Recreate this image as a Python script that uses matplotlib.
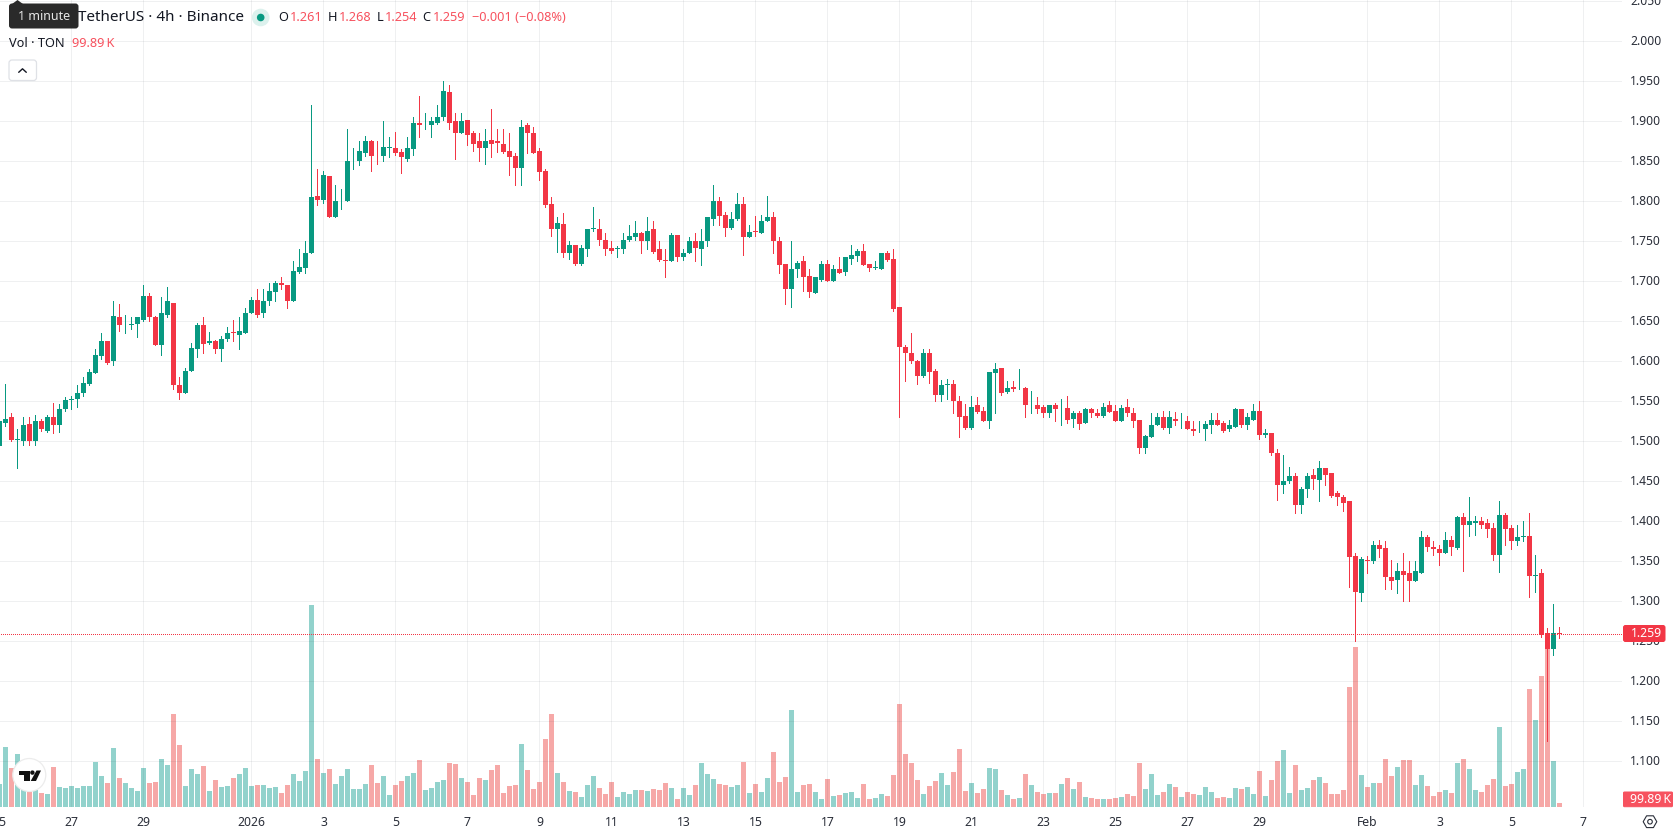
import matplotlib
matplotlib.use("Agg")
import matplotlib.pyplot as plt
from matplotlib.patches import Circle, FancyBboxPatch, Polygon, RegularPolygon
from matplotlib.transforms import ScaledTranslation

plt.rcParams['font.family'] = 'Noto Sans'

# TON/USDT 4h candles, one value per bar
opens = [
    1.494,1.523,1.530,1.502,1.501,1.522,1.500,1.525,1.513,1.531,
    1.521,1.540,1.552,1.553,1.561,1.572,1.586,1.606,1.626,1.600,
    1.656,1.645,1.646,1.647,1.652,1.682,1.656,1.621,1.658,1.673,
    1.571,1.561,1.588,1.615,1.646,1.623,1.626,1.615,1.628,1.637,
    1.633,1.636,1.660,1.677,1.660,1.675,1.687,1.698,1.696,1.676,
    1.712,1.717,1.735,1.806,1.802,1.832,1.780,1.800,1.800,1.850,
    1.850,1.861,1.876,1.857,1.856,1.867,1.867,1.862,1.853,1.865,
    1.898,1.895,1.895,1.898,1.905,1.937,1.901,1.886,1.901,1.885,
    1.875,1.867,1.877,1.875,1.872,1.863,1.856,1.842,1.895,1.886,
    1.863,1.838,1.796,1.765,1.772,1.735,1.746,1.722,1.740,1.765,
    1.766,1.752,1.741,1.740,1.740,1.752,1.756,1.761,1.750,1.765,
    1.740,1.727,1.725,1.758,1.730,1.736,1.751,1.740,1.750,1.778,
    1.801,1.783,1.767,1.778,1.796,1.755,1.763,1.760,1.776,1.781,
    1.751,1.721,1.690,1.715,1.725,1.707,1.686,1.702,1.722,1.701,
    1.715,1.712,1.728,1.731,1.738,1.721,1.717,1.716,1.736,1.728,
    1.668,1.618,1.611,1.601,1.582,1.611,1.588,1.558,1.571,1.572,
    1.551,1.532,1.517,1.545,1.538,1.525,1.585,1.592,1.562,1.568,
    1.565,1.567,1.545,1.546,1.543,1.535,1.546,1.540,1.542,1.528,
    1.535,1.523,1.540,1.536,1.532,1.545,1.538,1.526,1.543,1.536,
    1.527,1.491,1.506,1.521,1.531,1.517,1.528,1.525,1.526,1.516,
    1.515,1.516,1.521,1.527,1.523,1.515,1.518,1.541,1.521,1.527,
    1.538,1.508,1.511,1.486,1.445,1.450,1.457,1.421,1.440,1.458,
    1.452,1.467,1.460,1.435,1.431,1.425,1.356,1.311,1.352,1.350,
    1.370,1.367,1.331,1.327,1.338,1.336,1.325,1.336,1.380,1.368,
    1.366,1.360,1.377,1.367,1.406,1.396,1.398,1.400,1.398,1.392,
    1.358,1.408,1.392,1.375,1.381,1.382,1.332,1.335,1.261,1.240,
    1.261,
]
highs = [
    1.530,1.572,1.535,1.516,1.531,1.531,1.533,1.528,1.533,1.548,
    1.547,1.556,1.557,1.571,1.580,1.591,1.616,1.636,1.626,1.676,
    1.672,1.658,1.656,1.656,1.695,1.685,1.657,1.681,1.693,1.673,
    1.580,1.592,1.623,1.648,1.655,1.637,1.627,1.632,1.643,1.652,
    1.656,1.667,1.681,1.691,1.691,1.698,1.701,1.706,1.696,1.726,
    1.740,1.750,1.921,1.841,1.838,1.832,1.820,1.815,1.890,1.867,
    1.876,1.882,1.877,1.876,1.901,1.881,1.887,1.866,1.881,1.906,
    1.932,1.911,1.905,1.921,1.951,1.945,1.910,1.911,1.901,1.888,
    1.886,1.891,1.916,1.891,1.891,1.885,1.861,1.902,1.898,1.893,
    1.867,1.841,1.806,1.781,1.785,1.750,1.746,1.746,1.766,1.793,
    1.778,1.761,1.751,1.744,1.761,1.771,1.776,1.762,1.780,1.775,
    1.751,1.741,1.761,1.758,1.740,1.756,1.761,1.765,1.781,1.820,
    1.805,1.787,1.787,1.811,1.806,1.771,1.782,1.783,1.807,1.787,
    1.756,1.721,1.750,1.726,1.732,1.715,1.706,1.726,1.727,1.720,
    1.730,1.731,1.746,1.740,1.747,1.722,1.726,1.736,1.738,1.741,
    1.668,1.621,1.635,1.602,1.616,1.616,1.590,1.577,1.578,1.577,
    1.557,1.547,1.557,1.556,1.543,1.587,1.598,1.592,1.576,1.576,
    1.591,1.568,1.563,1.555,1.546,1.546,1.548,1.553,1.557,1.538,
    1.538,1.542,1.542,1.541,1.548,1.551,1.545,1.545,1.553,1.542,
    1.527,1.508,1.535,1.536,1.538,1.538,1.537,1.535,1.532,1.526,
    1.526,1.525,1.535,1.536,1.526,1.527,1.542,1.541,1.536,1.547,
    1.551,1.515,1.511,1.491,1.483,1.468,1.461,1.443,1.461,1.466,
    1.476,1.467,1.461,1.438,1.433,1.425,1.361,1.356,1.357,1.376,
    1.377,1.376,1.352,1.348,1.360,1.351,1.351,1.388,1.383,1.376,
    1.370,1.387,1.382,1.407,1.410,1.431,1.407,1.406,1.403,1.398,
    1.425,1.411,1.395,1.396,1.401,1.410,1.358,1.341,1.267,1.297,
    1.268,
]
lows = [
    1.490,1.519,1.501,1.467,1.496,1.496,1.496,1.513,1.512,1.511,
    1.512,1.538,1.541,1.543,1.557,1.571,1.586,1.603,1.597,1.596,
    1.638,1.636,1.640,1.631,1.651,1.651,1.620,1.608,1.656,1.565,
    1.553,1.561,1.588,1.606,1.610,1.622,1.611,1.600,1.625,1.626,
    1.616,1.635,1.660,1.656,1.656,1.670,1.676,1.691,1.667,1.675,
    1.710,1.711,1.735,1.796,1.798,1.781,1.780,1.791,1.800,1.840,
    1.846,1.857,1.838,1.847,1.851,1.855,1.858,1.835,1.851,1.858,
    1.881,1.891,1.880,1.897,1.902,1.890,1.853,1.885,1.871,1.863,
    1.851,1.847,1.856,1.862,1.861,1.833,1.820,1.820,1.861,1.861,
    1.827,1.793,1.757,1.737,1.730,1.728,1.721,1.720,1.732,1.763,
    1.746,1.733,1.736,1.730,1.736,1.750,1.752,1.736,1.741,1.736,
    1.725,1.706,1.725,1.726,1.727,1.736,1.726,1.721,1.744,1.771,
    1.771,1.757,1.765,1.777,1.733,1.755,1.757,1.760,1.776,1.735,
    1.711,1.672,1.668,1.705,1.688,1.680,1.685,1.700,1.700,1.700,
    1.711,1.708,1.722,1.726,1.720,1.713,1.715,1.715,1.726,1.663,
    1.531,1.575,1.598,1.572,1.581,1.573,1.551,1.551,1.553,1.536,
    1.505,1.516,1.516,1.536,1.525,1.517,1.535,1.558,1.561,1.563,
    1.565,1.531,1.535,1.536,1.530,1.531,1.526,1.520,1.523,1.518,
    1.516,1.523,1.530,1.531,1.531,1.537,1.526,1.526,1.532,1.518,
    1.486,1.486,1.506,1.521,1.516,1.510,1.521,1.517,1.515,1.508,
    1.512,1.502,1.511,1.521,1.512,1.513,1.518,1.518,1.515,1.527,
    1.503,1.505,1.483,1.427,1.436,1.448,1.411,1.411,1.430,1.440,
    1.426,1.446,1.431,1.421,1.413,1.318,1.251,1.301,1.336,1.348,
    1.356,1.315,1.316,1.311,1.301,1.301,1.325,1.336,1.363,1.358,
    1.346,1.360,1.358,1.366,1.338,1.382,1.383,1.392,1.381,1.352,
    1.337,1.371,1.365,1.370,1.376,1.306,1.312,1.256,1.125,1.233,
    1.254,
]
closes = [
    1.525,1.528,1.502,1.503,1.521,1.500,1.526,1.515,1.531,1.521,
    1.541,1.552,1.553,1.561,1.573,1.587,1.608,1.625,1.598,1.657,
    1.645,1.646,1.647,1.655,1.682,1.655,1.621,1.661,1.675,1.571,
    1.561,1.588,1.616,1.646,1.622,1.626,1.615,1.628,1.636,1.635,
    1.638,1.661,1.677,1.658,1.676,1.688,1.698,1.695,1.676,1.713,
    1.718,1.736,1.806,1.802,1.833,1.781,1.800,1.801,1.850,1.851,
    1.863,1.876,1.856,1.856,1.868,1.868,1.860,1.855,1.866,1.898,
    1.895,1.896,1.900,1.906,1.938,1.898,1.886,1.900,1.883,1.872,
    1.866,1.876,1.872,1.873,1.862,1.855,1.842,1.893,1.885,1.861,
    1.837,1.795,1.765,1.773,1.735,1.746,1.722,1.742,1.765,1.766,
    1.752,1.740,1.738,1.741,1.752,1.757,1.761,1.750,1.763,1.737,
    1.727,1.725,1.758,1.730,1.736,1.751,1.741,1.750,1.780,1.801,
    1.782,1.767,1.778,1.796,1.755,1.762,1.762,1.776,1.781,1.750,
    1.720,1.690,1.716,1.723,1.705,1.687,1.705,1.722,1.700,1.715,
    1.711,1.731,1.733,1.738,1.720,1.717,1.718,1.736,1.727,1.666,
    1.618,1.610,1.600,1.582,1.611,1.587,1.558,1.571,1.572,1.550,
    1.530,1.517,1.543,1.537,1.525,1.586,1.591,1.561,1.567,1.565,
    1.566,1.545,1.546,1.541,1.535,1.546,1.540,1.541,1.527,1.535,
    1.522,1.540,1.535,1.532,1.543,1.537,1.526,1.542,1.536,1.526,
    1.491,1.507,1.521,1.531,1.517,1.530,1.525,1.526,1.515,1.513,
    1.516,1.522,1.527,1.521,1.513,1.520,1.541,1.521,1.530,1.538,
    1.508,1.510,1.485,1.445,1.451,1.457,1.421,1.441,1.457,1.453,
    1.467,1.458,1.432,1.430,1.423,1.355,1.312,1.353,1.351,1.370,
    1.365,1.330,1.326,1.338,1.333,1.326,1.338,1.380,1.368,1.365,
    1.360,1.377,1.368,1.406,1.396,1.401,1.400,1.396,1.391,1.358,
    1.408,1.391,1.375,1.381,1.382,1.332,1.333,1.258,1.240,1.261,
    1.259,
]
# volume in thousands of TON
volumes = [
    612,1611,1044,1422,675,540,450,369,342,1071,
    531,504,558,504,558,558,1206,828,639,1584,
    774,639,504,423,1044,639,666,1287,1125,2502,
    1665,558,1017,882,1098,423,720,531,558,774,
    882,1044,558,585,585,504,531,369,585,882,
    693,963,5445,1287,909,1017,612,828,1017,477,
    477,612,1125,639,828,315,585,693,828,909,
    1260,459,513,675,729,1188,1161,783,675,324,
    783,729,999,1134,378,567,594,1701,999,486,
    675,1836,2511,918,675,432,405,270,594,837,
    513,351,675,270,405,351,459,459,432,486,
    459,648,513,216,513,324,594,1188,891,756,
    621,594,540,594,1215,378,621,405,783,1485,
    675,810,2619,405,594,621,405,216,756,297,
    324,378,405,243,621,216,243,351,297,864,
    2781,1431,1188,729,351,567,702,918,594,945,
    1566,432,648,378,486,1053,1026,459,324,216,
    243,891,594,405,351,378,378,621,783,486,
    675,270,243,216,216,216,243,270,351,297,
    1188,486,891,324,405,621,540,270,405,351,
    324,540,405,243,270,243,513,486,540,351,
    963,288,720,1233,1530,369,1125,450,504,720,
    801,639,342,342,450,3231,4311,855,531,639,
    639,1287,828,1071,1260,1260,585,855,558,288,
    396,450,369,1179,1287,1017,450,396,585,747,
    2151,558,612,936,1017,3177,2340,3528,4590,1233,
    99.89,
]

date_ticks = [0, 12, 24, 42, 54, 66, 78, 90, 102, 114, 126, 138, 150, 162, 174, 186, 198, 210, 228, 240, 252, 264]
date_labels = ['25', '27', '29', '2026', '3', '5', '7', '9', '11', '13', '15', '17', '19', '21',
               '23', '25', '27', '29', 'Feb', '3', '5', '7']
price_ticks = [1.10, 1.15, 1.20, 1.25, 1.30, 1.35, 1.40, 1.45, 1.50, 1.55, 1.60, 1.65, 1.70,
               1.75, 1.80, 1.85, 1.90, 1.95, 2.00, 2.05]

UP = '#089981'
DOWN = '#F23645'
DOWN_TEXT = '#F7525F'
TEXT = '#131722'
AXIS_TEXT = '#2a2e39'

W, H = 1678, 835
PX = 0.72  # one pixel in points at dpi 100

fig = plt.figure(figsize=(W / 100, H / 100), dpi=100, facecolor='white')
rect = [-6.5 / W, (H - 806.7) / H, (1621.7 + 6.5) / W, 806.7 / H]

# volume pane sits under the candles on the same x scale
ax_vol = fig.add_axes(rect, zorder=1)
ax = fig.add_axes(rect, zorder=2)
ax.patch.set_visible(False)

x = list(range(len(closes)))
rising = [c >= o for o, c in zip(opens, closes)]

vol_colors = ['#26a69a' if r else '#ef5350' for r in rising]
ax_vol.bar(x, volumes, width=5 / 6, color=vol_colors, alpha=0.5, linewidth=0, antialiased=False)
ax_vol.set_xlim(-1, 270.37)
ax_vol.set_ylim(0, 806.7 * 27)
ax_vol.axis('off')

colors = [UP if r else DOWN for r in rising]
ax.vlines(x, lows, highs, colors=colors, linewidth=PX, antialiased=False, zorder=3)
body_low = [min(o, c) for o, c in zip(opens, closes)]
body_h = [abs(c - o) for o, c in zip(opens, closes)]
ax.bar(x, body_h, bottom=body_low, width=5 / 6, color=colors, linewidth=0, antialiased=False, zorder=4)
ax.axhline(closes[-1], color=DOWN, linewidth=PX, linestyle=(0, (1, 2)), antialiased=False, zorder=5)

ax.set_xlim(-1, 270.37)
ax.set_ylim(1.04325, 2.051625)
ax.set_xticks(date_ticks)
ax.set_xticklabels(date_labels)
ax.set_yticks(price_ticks)
ax.set_yticklabels(['%.3f' % p for p in price_ticks])
ax.yaxis.tick_right()
ax.tick_params(axis='y', length=0, pad=6.2, labelsize=8.7, labelcolor=AXIS_TEXT)
ax.tick_params(axis='x', length=0, pad=7, labelsize=8.8, labelcolor=AXIS_TEXT)
for lab in ax.get_xticklabels():
    if lab.get_text() == '2026':
        lab.set_fontweight('bold')
# lift the price labels one pixel
lift = ScaledTranslation(0, 1 / 100, fig.dpi_scale_trans)
for tick in ax.yaxis.get_major_ticks():
    tick.label2.set_transform(tick.label2.get_transform() + lift)
ax.set_axisbelow(True)
ax.grid(True, color='#2a2e39', alpha=0.07, linewidth=PX)
for s in ax.spines.values():
    s.set_visible(False)

# top layer in pixel coordinates for the legend and the scale labels
ui = fig.add_axes([0, 0, 1, 1], zorder=5)
ui.set_xlim(0, W)
ui.set_ylim(H, 0)
ui.axis('off')

# last price and last volume tags
ui.add_patch(FancyBboxPatch((1623.5, 625.5), 41.5, 16, boxstyle='round,pad=0,rounding_size=2',
                            facecolor=DOWN, edgecolor=DOWN, linewidth=PX))
ui.text(1630.5, 633.3, '%.3f' % closes[-1], color='white', fontsize=8.8, va='center')
ui.add_patch(FancyBboxPatch((1623.5, 792), 49, 14.7, boxstyle='round,pad=0,rounding_size=1',
                            facecolor=DOWN_TEXT, edgecolor=DOWN_TEXT, linewidth=PX))
ui.text(1630.5, 799.2, '99.89\u2009K', color='white', fontsize=8.9, va='center')

# legend rows
ui.text(78.5, 17.5, 'TetherUS \u00b7 4h \u00b7 Binance', color=TEXT, fontsize=11, va='center')
ui.add_patch(Circle((260.7, 17.5), 8.8, facecolor='#dcf1ed', edgecolor='none'))
ui.add_patch(Circle((260.7, 17.5), 3.8, facecolor=UP, edgecolor='none'))
ohlc = [('O', 278, '1.261', 290), ('H', 328, '1.268', 338.6),
        ('L', 377, '1.254', 385), ('C', 422.5, '1.259', 433)]
for name, x0, val, x1 in ohlc:
    ui.text(x0, 17.5, name, color=TEXT, fontsize=9.2, va='center')
    ui.text(x1, 17.5, val, color=DOWN_TEXT, fontsize=9.2, va='center')
ui.text(471.5, 17.5, '\u22120.001 (\u22120.08%)', color=DOWN_TEXT, fontsize=9.2, va='center')
ui.text(9, 43.5, 'Vol \u00b7 TON', color=TEXT, fontsize=9.2, va='center')
ui.text(72, 43.5, '99.89\u2009K', color=DOWN_TEXT, fontsize=9.2, va='center')

# collapse button
ui.add_patch(FancyBboxPatch((9, 60), 27.5, 20.5, boxstyle='round,pad=0,rounding_size=3',
                            facecolor='white', edgecolor='#dfe1e6', linewidth=0.9))
ui.plot([18.7, 22.5, 26.3], [72.3, 68.8, 72.3], color=TEXT, linewidth=1.0, solid_capstyle='round')

# hover tooltip
ui.add_patch(Polygon([[12, 4], [17.5, 0], [23, 4]], facecolor='#2a2a2a', edgecolor='none'))
ui.add_patch(FancyBboxPatch((9, 3.5), 69.5, 25, boxstyle='round,pad=0,rounding_size=3',
                            facecolor='#2a2a2a', edgecolor='none'))
ui.text(18, 17, '1 minute', color='#e6e6e6', fontsize=9, va='center')

# logo badge
ui.add_patch(Circle((29.3, 775), 16.5, facecolor='white', edgecolor='#ececec', linewidth=0.9))
ui.add_patch(Polygon([[19, 770.5], [30, 770.5], [30, 781], [24.4, 781], [24.4, 775], [19, 775]],
                     facecolor='#111111', edgecolor='none'))
ui.add_patch(Circle((32.4, 772.6), 2.2, facecolor='#111111', edgecolor='none'))
ui.add_patch(Polygon([[36.5, 770.5], [41, 770.5], [36, 781], [30.7, 781]], facecolor='#111111', edgecolor='none'))

# scale settings icon
ui.add_patch(RegularPolygon((1650, 821.7), 6, radius=6.8, orientation=0.5236, facecolor='none',
                            edgecolor=AXIS_TEXT, linewidth=0.8))
ui.add_patch(Circle((1650, 821.7), 2.3, facecolor='none', edgecolor=AXIS_TEXT, linewidth=0.8))

fig.savefig('out.png', dpi=100)
